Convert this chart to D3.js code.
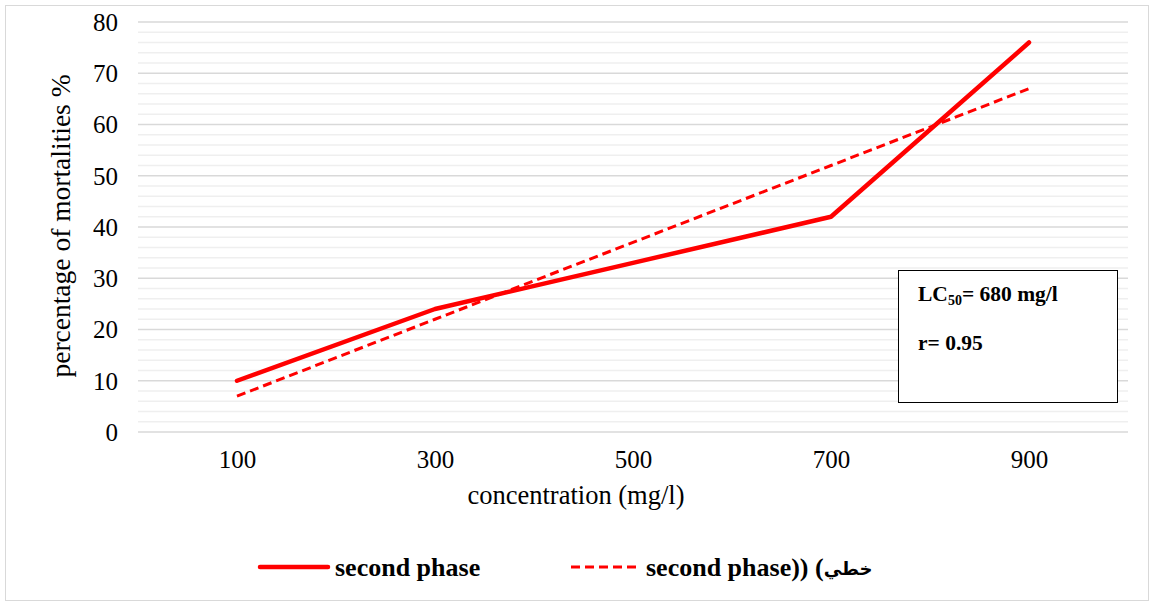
<!DOCTYPE html>
<html>
<head>
<meta charset="utf-8">
<script src="https://cdn.jsdelivr.net/npm/d3@7"></script>
<style>
  html, body { margin: 0; padding: 0; background: #fff; }
  svg { display: block; }
</style>
</head>
<body>
<svg id="chart" width="1153" height="605"></svg>
<script>
// ---- data ----
const categories = ["100", "300", "500", "700", "900"];
const secondPhase = [10, 24, 33, 42, 76];
const linearTrend = [7, 22, 37, 52, 67];
const yTicks = [0, 10, 20, 30, 40, 50, 60, 70, 80];
const seriesNames = ["second phase", "second phase)) ("];
const trendWord = "خطي";
const xTitle = "concentration (mg/l)";
const yTitle = "percentage of mortalities %";
const boxLine1 = ["LC", "50", "= 680 mg/l"];
const boxLine2 = "r= 0.95";

// ---- layout ----
const W = 1153, H = 605;
const plot = { left: 138, right: 1128, top: 22, bottom: 432 };
const serif = "'Liberation Serif', 'Times New Roman', 'DejaVu Serif', serif";
const red = "#ff0000";

const svg = d3.select("#chart");
svg.append("rect").attr("x", 0).attr("y", 0).attr("width", W).attr("height", H).attr("fill", "#fff");
svg.append("rect").attr("x", 5.5).attr("y", 5.5).attr("width", 1143).attr("height", 595)
  .attr("fill", "none").attr("stroke", "#d9d9d9").attr("stroke-width", 1);

const x = d3.scalePoint().domain(categories).range([plot.left, plot.right]).padding(0.5);
const y = d3.scaleLinear().domain([0, 80]).range([plot.bottom, plot.top]);

// minor grid
const minor = d3.range(0, 81, 2).filter(v => v % 10 !== 0);
svg.append("g").selectAll("line").data(minor).join("line")
  .attr("x1", plot.left).attr("x2", plot.right)
  .attr("y1", d => y(d)).attr("y2", d => y(d))
  .attr("stroke", "#efefef").attr("stroke-width", 1.5);

// major grid
svg.append("g").selectAll("line").data(yTicks).join("line")
  .attr("x1", plot.left).attr("x2", plot.right)
  .attr("y1", d => y(d)).attr("y2", d => y(d))
  .attr("stroke", "#d9d9d9").attr("stroke-width", 1.5);

// y axis labels
const yAxis = svg.append("g").attr("transform", `translate(${plot.left - 20},0)`)
  .call(d3.axisLeft(y).tickValues(yTicks).tickSize(0).tickPadding(0));
yAxis.select(".domain").remove();
yAxis.selectAll("text").attr("font-family", serif).attr("font-size", 25)
  .attr("fill", "#000").attr("dy", "0.33em");

// x axis labels
const xAxis = svg.append("g").attr("transform", `translate(0,${plot.bottom})`)
  .call(d3.axisBottom(x).tickSize(0).tickPadding(0));
xAxis.select(".domain").remove();
xAxis.selectAll("text").attr("font-family", serif).attr("font-size", 25)
  .attr("fill", "#000").attr("dy", null).attr("y", 36);

// axis titles
svg.append("text").attr("x", 576).attr("y", 504).attr("text-anchor", "middle")
  .attr("font-family", serif).attr("font-size", 26.5).attr("fill", "#000").text(xTitle);
svg.append("text").attr("transform", "translate(70,226) rotate(-90)").attr("text-anchor", "middle")
  .attr("font-family", serif).attr("font-size", 27.5).attr("fill", "#000").text(yTitle);

// lines
const line = d3.line().x((d, i) => x(categories[i])).y(d => y(d));
svg.append("path").datum(linearTrend).attr("d", line)
  .attr("fill", "none").attr("stroke", red).attr("stroke-width", 3)
  .attr("stroke-dasharray", "9,5");
svg.append("path").datum(secondPhase).attr("d", line)
  .attr("fill", "none").attr("stroke", red).attr("stroke-width", 4.5)
  .attr("stroke-linejoin", "round").attr("stroke-linecap", "round");

// text box
svg.append("rect").attr("x", 898.5).attr("y", 270.5).attr("width", 219).attr("height", 132)
  .attr("fill", "#fff").attr("stroke", "#000").attr("stroke-width", 1);
const t1 = svg.append("text").attr("x", 918).attr("y", 301)
  .attr("font-family", serif).attr("font-size", 21.5).attr("font-weight", "bold").attr("fill", "#000");
t1.append("tspan").text(boxLine1[0]);
t1.append("tspan").attr("font-size", 14).attr("dy", 4).text(boxLine1[1]);
t1.append("tspan").attr("dy", -4).text(boxLine1[2]);
svg.append("text").attr("x", 918).attr("y", 350)
  .attr("font-family", serif).attr("font-size", 21.5).attr("font-weight", "bold").attr("fill", "#000")
  .text(boxLine2);

// legend
const legend = svg.append("g");
legend.append("line").attr("x1", 260).attr("x2", 328).attr("y1", 567).attr("y2", 567)
  .attr("stroke", red).attr("stroke-width", 4.5).attr("stroke-linecap", "round");
legend.append("text").attr("x", 335).attr("y", 576)
  .attr("font-family", serif).attr("font-size", 26).attr("font-weight", "bold").attr("fill", "#000")
  .text(seriesNames[0]);
legend.append("line").attr("x1", 571).attr("x2", 640).attr("y1", 567).attr("y2", 567)
  .attr("stroke", red).attr("stroke-width", 3).attr("stroke-dasharray", "9,5");
const lt = legend.append("text").attr("x", 646).attr("y", 576)
  .attr("font-family", serif).attr("font-size", 26).attr("font-weight", "bold").attr("fill", "#000");
lt.append("tspan").text(seriesNames[1]);
lt.append("tspan").attr("font-family", "'DejaVu Sans', sans-serif").attr("font-size", 18)
  .attr("dy", -1).text(trendWord);
</script>
</body>
</html>
